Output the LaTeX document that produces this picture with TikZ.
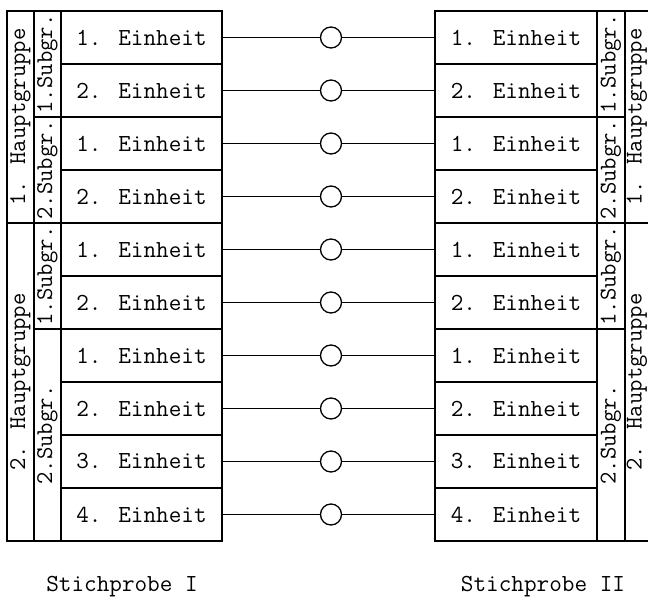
\documentclass[tikz,border=0pt]{standalone}
\usepackage{fontspec}
\usetikzlibrary{positioning}
\tikzset{
	%Diagramm style
	einheit/.style={
		draw,
		rectangle,
		line width=1.4pt,
		minimum width=161pt,
		minimum height=53pt,
		inner sep=0pt,
		outer sep=0pt,
		align=center,
		font=\ttfamily\fontsize{24.5}{26}\selectfont,
	},
	subGruppe/.style={
		draw,
		rectangle,
		rotate=90,
		line width=1.4pt,
		minimum height=27pt,
		inner sep=0pt,
		outer sep=0pt,
		font=\ttfamily\fontsize{24}{26}\selectfont,
	},
	hauptGruppe/.style={
		subGruppe,
	},
	kreis/.style={
		draw,
		circle,
		line width=1.3pt,
		minimum size=21pt,
		inner sep=0pt,
		fill=white,
	},
	verbindung/.style={
		line width=1.3pt,
	},
	stichprobe/.style={
		font=\ttfamily\fontsize{24.5}{26}\selectfont,
		inner sep=0pt,
	}
}

\begin{document}
\begin{tikzpicture}[x=1pt, y=-1pt]
	\useasboundingbox (0,0) rectangle (648,599);

	% Einheiten und Verbindungen
	\foreach \i/\n in {1/1,2/2,3/1,4/2,5/1,6/2,7/1,8/2,9/3,10/4} {
		\node[einheit] (links\i) at (141.5, {11+53*(\i-0.5)}) {\n. Einheit};
		\node[einheit, minimum width=162pt] (rechts\i) at (516, {11+53*(\i-0.5)}) {\n. Einheit};
		\node[kreis] (kreis\i) at (331, {11+53*(\i-0.5)}) {};
		\draw[verbindung] (links\i) -- (kreis\i) -- (rechts\i);
	}

	% Stichprobe I
	\node[subGruppe, minimum width=106pt] (linksSub1) at (47.5, 64) {1.Subgr.};
	\node[subGruppe, minimum width=106pt] (linksSub2) at (47.5, 170) {2.Subgr.};
	\node[subGruppe, minimum width=106pt] (linksSub3) at (47.5, 276) {1.Subgr.};
	\node[subGruppe, minimum width=212pt] (linksSub4) at (47.5, 435) {2.Subgr.};
	\node[hauptGruppe, minimum width=212pt] (linksHaupt1) at (20.5, 117) {1. Hauptgruppe};
	\node[hauptGruppe, minimum width=318pt] (linksHaupt2) at (20.5, 382) {2. Hauptgruppe};

	% Stichprobe II
	\node[subGruppe, minimum width=106pt, minimum height=28pt] (rechtsSub1) at (611, 64) {1.Subgr.};
	\node[subGruppe, minimum width=106pt, minimum height=28pt] (rechtsSub2) at (611, 170) {2.Subgr.};
	\node[subGruppe, minimum width=106pt, minimum height=28pt] (rechtsSub3) at (611, 276) {1.Subgr.};
	\node[subGruppe, minimum width=212pt, minimum height=28pt] (rechtsSub4) at (611, 435) {2.Subgr.};
	\node[hauptGruppe, minimum width=212pt, minimum height=25pt] (rechtsHaupt1) at (637, 117) {1. Hauptgruppe};
	\node[hauptGruppe, minimum width=318pt, minimum height=25pt] (rechtsHaupt2) at (637, 382) {2. Hauptgruppe};

	\node[stichprobe] (stichprobe1) at (122, 587) {Stichprobe I};
	\node[stichprobe] (stichprobe2) at (543, 587) {Stichprobe II};
\end{tikzpicture}
\end{document}
